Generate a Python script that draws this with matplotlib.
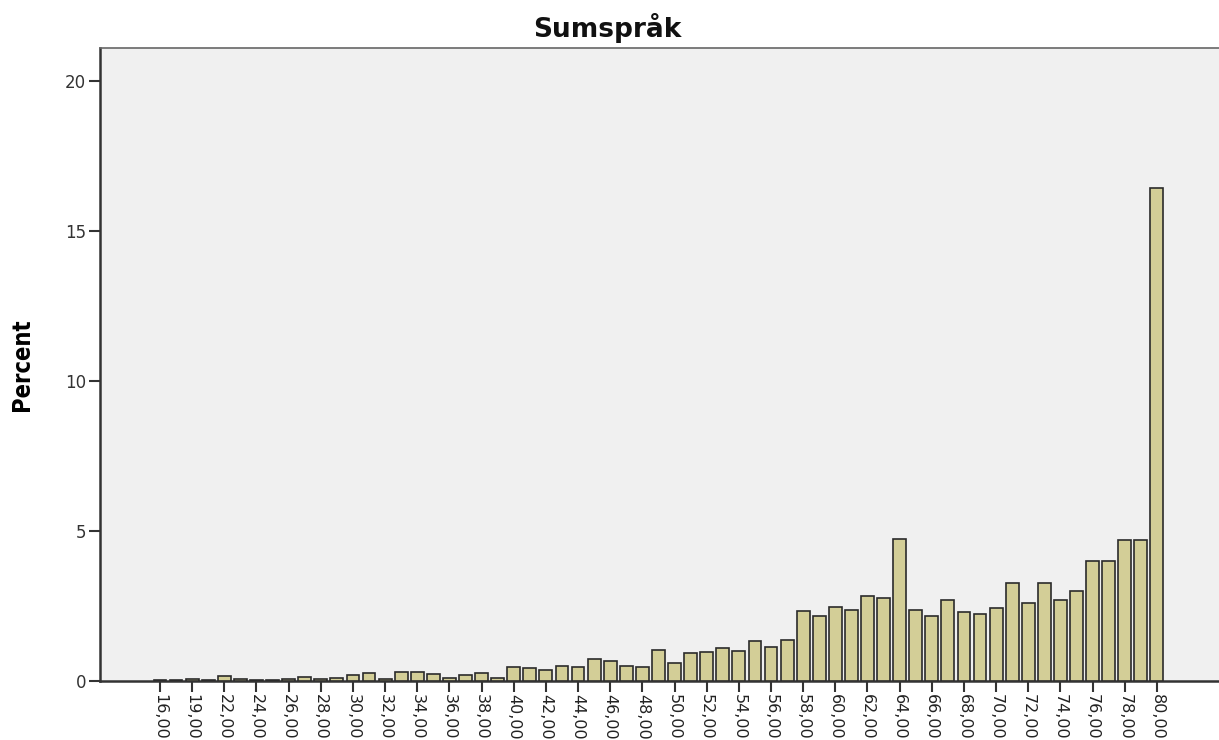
import matplotlib.pyplot as plt
import numpy as np

categories = [16, 18, 19, 21, 22, 23, 24, 25, 26, 27, 28, 29, 30, 31, 32, 33, 34, 35,
              36, 37, 38, 39, 40, 41, 42, 43, 44, 45, 46, 47, 48, 49, 50, 51, 52, 53,
              54, 55, 56, 57, 58, 59, 60, 61, 62, 63, 64, 65, 66, 67, 68, 69, 70, 71,
              72, 73, 74, 75, 76, 77, 78, 79, 80]
percent = [0.05, 0.03, 0.07, 0.03, 0.18, 0.08, 0.03, 0.03, 0.07, 0.13, 0.07, 0.10,
           0.20, 0.27, 0.08, 0.29, 0.29, 0.23, 0.11, 0.20, 0.28, 0.11, 0.46, 0.43,
           0.36, 0.50, 0.47, 0.72, 0.67, 0.50, 0.47, 1.02, 0.60, 0.92, 0.98, 1.11,
           1.00, 1.33, 1.14, 1.37, 2.32, 2.17, 2.48, 2.36, 2.83, 2.76, 4.74, 2.37,
           2.17, 2.70, 2.29, 2.24, 2.45, 3.28, 2.61, 3.28, 2.71, 2.99, 4.01, 4.00,
           4.69, 4.69, 16.43]
tick_labels = ['%d,00' % c for c in categories]
yticks = [0, 5, 10, 15, 20]

fig = plt.figure(figsize=(12.19, 7.40), dpi=100)
ax = fig.add_axes([100/1219, 59/740, 1119/1219, 633/740])
ax.set_facecolor('#f0f0f0')

x = np.arange(len(categories))
ax.bar(x, percent, width=0.8, color='#d3ce97', edgecolor='#2b2b2b', linewidth=1.2, zorder=3)

ax.set_xlim(-3.73, 65.86)
ax.set_ylim(0, 21.1)
ax.set_xticks(x[::2])
ax.set_xticklabels(tick_labels[::2], rotation=270, fontsize=11.5, color='#222222')
ax.set_yticks(yticks)
ax.set_yticklabels([str(v) for v in yticks], fontsize=12, color='#333333')
ax.tick_params(axis='both', direction='out', length=8, width=1.5, color='#333333')
ax.tick_params(axis='x', pad=1)
ax.tick_params(axis='y', pad=2)

for side in ['left', 'bottom']:
    ax.spines[side].set_linewidth(1.8)
    ax.spines[side].set_color('#333333')
ax.spines['top'].set_linewidth(1.2)
ax.spines['top'].set_color('#666666')
ax.spines['right'].set_visible(False)

ax.set_ylabel('Percent', fontsize=17, fontweight='bold', fontstretch='condensed',
              family=['DejaVu Sans'], labelpad=22)
fig.text(607/1219, 1 - 28/740, 'Sumspråk', ha='center', va='center',
         fontsize=19, fontweight='bold', color='#111111')

plt.savefig('out.png', dpi=100)
plt.close()
